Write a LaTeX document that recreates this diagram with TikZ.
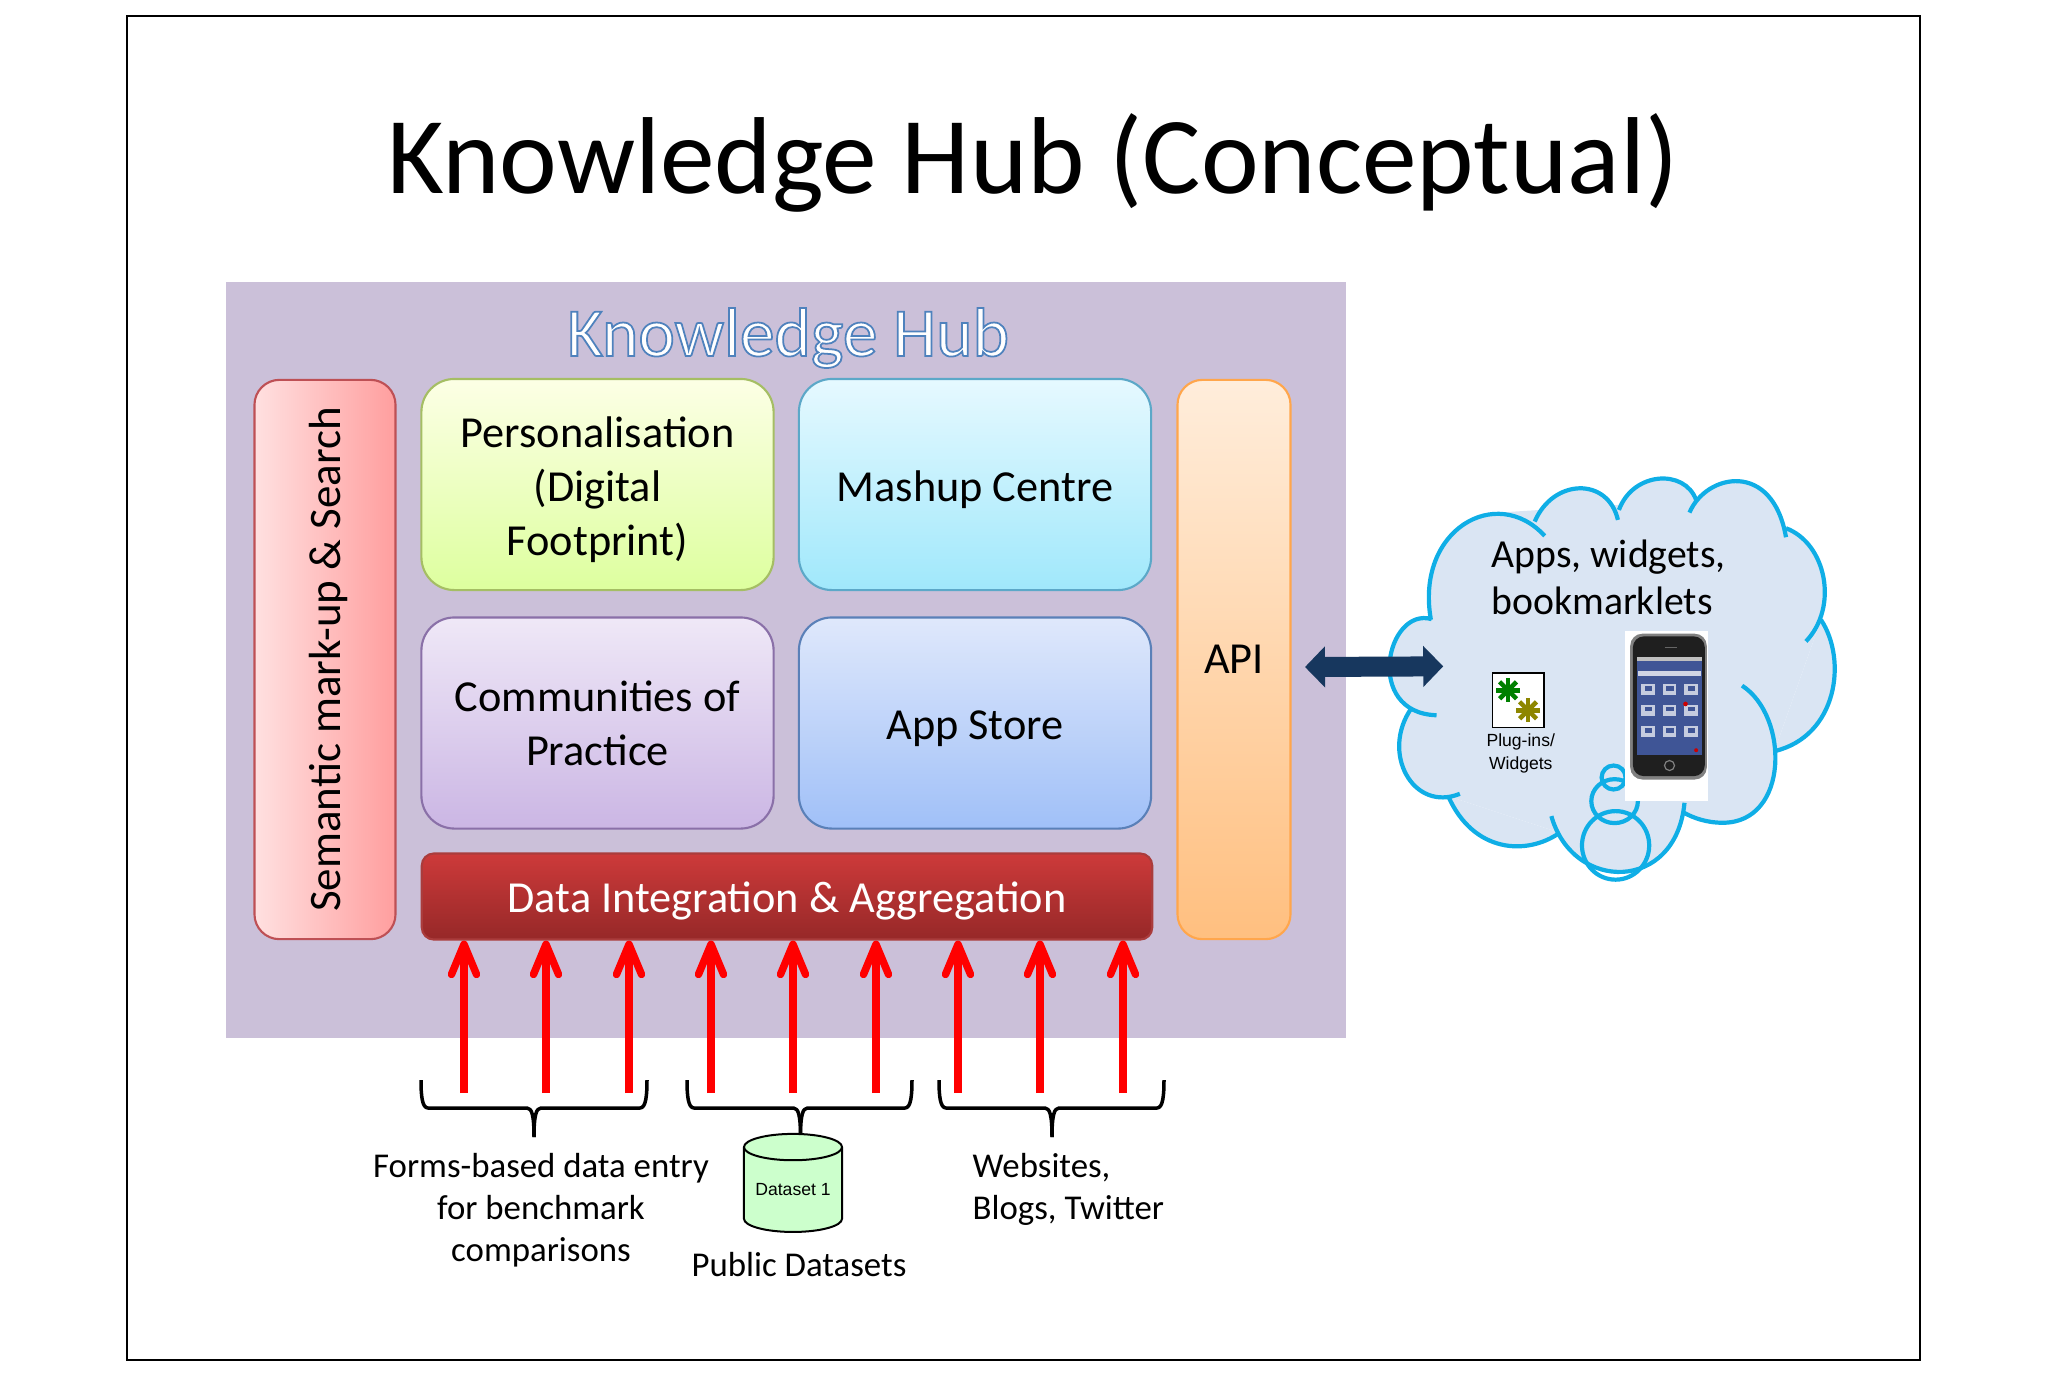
\documentclass[tikz,border=0pt]{standalone}
\usepackage{fontspec}
\setmainfont{Carlito}
\newfontfamily\labelfont{Liberation Sans}
\usetikzlibrary{arrows.meta}
\usetikzlibrary{shapes.geometric}
\definecolor{hubfill}{HTML}{CBC0D9}
\definecolor{cloudfill}{HTML}{DAE5F3}
\definecolor{cloudline}{HTML}{0FAEE6}
\definecolor{apiarrow}{HTML}{17375E}
\definecolor{screenblue}{HTML}{3F5596}
\newcommand{\titlefont}{\fontsize{31.1}{36}\selectfont}
\newcommand{\hubfont}{\fontsize{19.7}{24}\selectfont}
\newcommand{\boxfont}{\fontsize{12.6}{15.4}\selectfont}
\newcommand{\notefont}{\fontsize{9.9}{11.9}\selectfont}
\newcommand{\cloudfont}{\fontsize{11.3}{13.4}\selectfont}
\newcommand{\boxstrut}{\rule{0pt}{0.405cm}}
\newcommand{\cloudlobes}[1]{
\path[#1] (215,478) .. controls (80,440) and (10,760) .. (230,767);
\path[#1] (213,480) .. controls (165,210) and (410,70) .. (555,228);
\path[#1] (525,185) .. controls (580,55) and (745,50) .. (775,180);
\path[#1] (778,150) .. controls (820,35) and (975,25) .. (1010,120);
\path[#1] (990,158) .. controls (1040,40) and (1240,0) .. (1280,232);
\path[#1] (1280,205) .. controls (1400,250) and (1440,440) .. (1340,545);
\path[#1] (1385,480) .. controls (1465,600) and (1435,830) .. (1245,875);
\path[#1] (1148,678) .. controls (1290,770) and (1290,1090) .. (1090,1090) .. controls (1040,1090) and (1000,1075) .. (970,1058);
\path[#1] (975,1030) .. controls (950,1300) and (640,1300) .. (575,1070);
\path[#1] (600,1120) .. controls (500,1190) and (340,1180) .. (265,1010);
\path[#1] (300,1003) .. controls (160,1060) and (60,880) .. (155,745);
}
\tikzset{
  hubbox/.style={rectangle,draw,line width=0.6pt,rounded corners=0.33cm,inner sep=0pt,
    minimum width=3.52cm,minimum height=2.11cm,align=center,font=\boxfont},
  sidebox/.style={hubbox,rounded corners=0.25cm},
  feedarrow/.style={draw=red,line width=0.075cm,-{Straight Barb[length=0.3cm,width=0.25cm,round]}},
  bracket/.style={draw=black,line width=0.035cm,line join=round},
  notelabel/.style={align=center,font=\notefont,inner sep=0pt},
  cloudedge/.style={draw=cloudline,line width=0.042cm},
  asterisk/.style={line width=0.045cm},
}
\begin{document}
\begin{tikzpicture}[x=0.01cm,y=-0.01cm]
\useasboundingbox (0,0) rectangle (2048,1375);
\draw[line width=0.025cm] (127,16) rectangle (1920,1360);
\node[font=\titlefont,inner sep=0pt] (title) at (1033,163) {Knowledge Hub (Conceptual)};
% hub
\fill[hubfill] (226,282) rectangle (1346,1038);
\node[font=\hubfont,inner sep=0pt] (hubtitle) at (788,338) {\special{pdf:code 2 Tr 0.5 w 0.31 0.51 0.74 RG 1 1 1 rg}Knowledge Hub\special{pdf:code 0 Tr 0 0 0 rg 0 0 0 RG}};
\node[sidebox,draw={rgb,255:red,190;green,80;blue,85},left color=red!12,right color=red!38,minimum width=1.41cm,minimum height=5.59cm] (semantic) at (325,659.5) {};
\node[rotate=90,font=\fontsize{12.8}{15.4}\selectfont,inner sep=0pt] (semantictext) at ([xshift=0.03cm]semantic.center) {Semantic mark-up \& Search};
\node[hubbox,draw={rgb,255:red,165;green,190;blue,100},top color=green!10!yellow!10,bottom color=green!35!yellow!38] (personal) at (597.5,484.5) {\boxstrut Personalisation\\(Digital\\Footprint)};
\node[hubbox,draw={rgb,255:red,92;green,168;blue,200},top color={rgb,255:red,230;green,249;blue,255},bottom color={rgb,255:red,160;green,232;blue,251}] (mashup) at (975,484.5) {\boxstrut Mashup Centre};
\node[hubbox,draw={rgb,255:red,138;green,112;blue,168},top color={rgb,255:red,239;green,232;blue,247},bottom color={rgb,255:red,203;green,182;blue,228}] (communities) at (597.5,723) {Communities of\\Practice};
\node[hubbox,draw={rgb,255:red,90;green,128;blue,184},top color={rgb,255:red,223;green,232;blue,251},bottom color={rgb,255:red,160;green,192;blue,248}] (appstore) at (975,723) {\boxstrut App Store};
\node[sidebox,rounded corners=0.12cm,draw={rgb,255:red,170;green,60;blue,60},top color={rgb,255:red,205;green,58;blue,58},bottom color={rgb,255:red,150;green,40;blue,40},text=white,minimum width=7.3cm,minimum height=0.86cm] (data) at (787,896.5) {\boxstrut Data Integration \& Aggregation};
\node[sidebox,draw=orange!70,top color=orange!14,bottom color=orange!50,minimum width=1.13cm,minimum height=5.59cm] (api) at (1234,659.5) {API};
% arrows into the data box
\foreach \x in {464,546,629,711,793,876,958,1040,1123}{
\coordinate (feed\x) at (\x,1093);
\draw[feedarrow] (feed\x) -- (feed\x |- data.south);
}
% braces
\foreach \bl/\bm/\br in {421/534/647,687/800.5/912,939/1052/1164}{
\draw[bracket] (\bl,1080) .. controls (\bl,1095) and ({\bl+1},1108) .. ({\bl+7},1108) -- ({\bm-7},1108) .. controls ({\bm-2},1108) and (\bm,1116) .. (\bm,1137);
\draw[bracket] (\br,1080) .. controls (\br,1095) and ({\br-1},1108) .. ({\br-7},1108) -- ({\bm+7},1108) .. controls ({\bm+2},1108) and (\bm,1116) .. (\bm,1137);
}
\node[notelabel] (forms) at (541,1210) {Forms-based data entry\\for benchmark\\comparisons};
\node[shape=cylinder,shape border rotate=90,aspect=0.35,draw,line width=0.02cm,fill=green!20,minimum width=0.98cm,minimum height=0.98cm,inner sep=0pt,font=\labelfont\fontsize{5}{6}\selectfont] (dataset) at (793,1190) {Dataset 1};
\node[notelabel] (public) at (799,1265) {Public Datasets};
\node[notelabel,align=left,anchor=west] (websites) at (972,1189) {Websites,\\Blogs, Twitter};
% cloud
\begin{scope}[shift={(1360,460)},x=0.00333cm,y=-0.00333cm]
\fill[cloudfill] (213,480) -- (385,160) -- (1010,120) -- (1280,205) -- (1385,480) -- (1245,875) -- (970,1058) -- (600,1120) -- (265,1010) -- (155,745) -- cycle;
\cloudlobes{fill=cloudfill}
\cloudlobes{cloudedge}
\draw[cloudedge] (768,1158) ellipse (101 and 103);
\draw[cloudedge] (765,1025) ellipse (70 and 66);
\draw[cloudedge] (762,954) ellipse (36 and 36);
% phone
\fill[white] (797,515) rectangle (1045,1025);
\fill[black!50,rounded corners=0.12cm] (812,522) rectangle (1042,960);
\fill[black!88,rounded corners=0.11cm] (820,530) rectangle (1036,950);
\fill[screenblue] (832,592) rectangle (1028,885);
\fill[black!25] (832,592) rectangle (1028,605);
\fill[white!75!screenblue] (836,635) rectangle (1024,648);
\foreach \ix in {865,930,995}{
\foreach \iy in {688,750,815}{
\fill[white!70!screenblue] ({\ix-20},{\iy-15}) rectangle ({\ix+20},{\iy+18});
\fill[screenblue] ({\ix-10},{\iy-9}) rectangle ({\ix+12},{\iy+5});
}}
\fill[red!80!black] (978,733) circle (7);
\fill[red!80!black] (1010,872) circle (6);
\draw[black!60,line width=0.01cm] (915,563) -- (952,563);
\draw[black!50,line width=0.012cm] (930,918) circle (15);
% plug-in icon
\draw[fill=white,line width=0.015cm] (398,640) rectangle (553,803);
\foreach \ang in {0,45,90,135}{
\draw[asterisk,green!50!black] ({445+36*cos(\ang)},{692-36*sin(\ang)}) -- ({445-36*cos(\ang)},{692+36*sin(\ang)});
\draw[asterisk,olive] ({505+36*cos(\ang)},{752-36*sin(\ang)}) -- ({505-36*cos(\ang)},{752+36*sin(\ang)});
}
\node[font=\labelfont\fontsize{5}{6.5}\selectfont,align=center,inner sep=0pt] (plugins) at (483,881) {Plug-ins/\\Widgets};
\node[font=\cloudfont,align=left,anchor=west,inner sep=0pt] (apps) at (393,352) {Apps, widgets,\\bookmarklets};
\coordinate (cloudport) at (250,620);
\end{scope}
\coordinate (apiport) at (1305,667);
\draw[apiarrow,line width=0.2cm,{Triangle[length=0.2cm,width=0.4cm]}-{Triangle[length=0.2cm,width=0.4cm]}] (apiport) -- (cloudport);
\end{tikzpicture}
\end{document}
